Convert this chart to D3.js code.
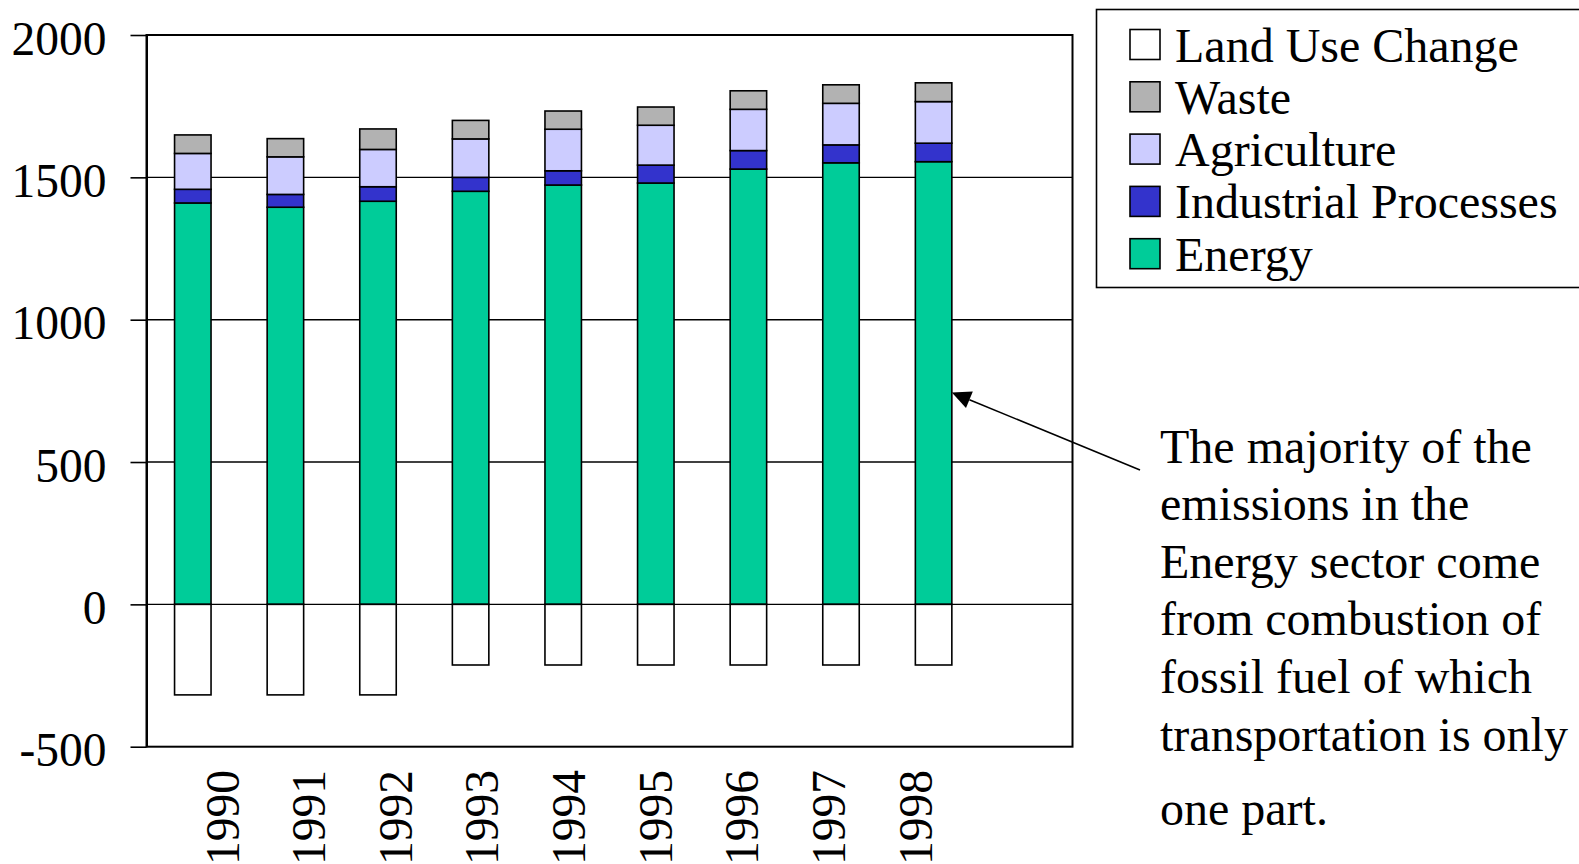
<!DOCTYPE html>
<html>
<head>
<meta charset="utf-8">
<script src="https://cdn.jsdelivr.net/npm/d3@7"></script>
<style>
  html, body { margin: 0; padding: 0; background: #fff; }
  svg { display: block; }
  text { font-family: "Liberation Serif", "Times New Roman", serif; fill: #000; }
</style>
</head>
<body>
<svg id="chart" width="1579" height="864"></svg>
<script>
// Greenhouse gas emissions by sector, 1990-1998
const years = ["1990", "1991", "1992", "1993", "1994", "1995", "1996", "1997", "1998"];
const energy      = [1410, 1395, 1416, 1451, 1473, 1480, 1529, 1551, 1555];
const industrial  = [48, 45, 51, 49, 50, 63, 65, 63, 65];
const agriculture = [126, 132, 131, 135, 146, 140, 145, 146, 146];
const waste       = [65, 64, 72, 65, 64, 64, 65, 65, 66];
const landUse     = [-318, -318, -318, -213, -213, -213, -213, -213, -213];

const yTicks = [-500, 0, 500, 1000, 1500, 2000];

const seriesKeys   = ["energy", "industrial", "agriculture", "waste", "landUse"];
const seriesNames  = { landUse: "Land Use Change", waste: "Waste", agriculture: "Agriculture",
                       industrial: "Industrial Processes", energy: "Energy" };
const seriesColors = { landUse: "#ffffff", waste: "#b2b2b2", agriculture: "#ccccff",
                       industrial: "#3333cc", energy: "#00cc99" };
const legendOrder  = ["landUse", "waste", "agriculture", "industrial", "energy"];

const noteLines = [
  "The majority of the",
  "emissions in the",
  "Energy sector come",
  "from combustion of",
  "fossil fuel of which",
  "transportation is only"
];
const noteLast = "one part.";

const table = years.map((yr, i) => ({
  year: yr,
  energy: energy[i],
  industrial: industrial[i],
  agriculture: agriculture[i],
  waste: waste[i],
  landUse: landUse[i]
}));

const svg = d3.select("#chart");
const plot = { left: 146.5, right: 1072.5, top: 35, bottom: 746.7 };
const serif = "Liberation Serif, Times New Roman, serif";

// nine bars take the first nine of ten equal slots across the plot
const slot = (plot.right - plot.left) / 10;
const x = d3.scaleBand()
  .domain(years)
  .range([plot.left, plot.left + slot * 9])
  .paddingInner(0.606)
  .paddingOuter(0.303);

const y = d3.scaleLinear().domain([-500, 2000]).range([plot.bottom, plot.top]);

// gridlines
svg.append("g")
  .selectAll("line")
  .data(yTicks.filter(v => v > -500 && v < 2000))
  .join("line")
  .attr("x1", plot.left).attr("x2", plot.right)
  .attr("y1", d => y(d)).attr("y2", d => y(d))
  .attr("stroke", "#000").attr("stroke-width", 1.4);

// stacked bars
const stacked = d3.stack().keys(seriesKeys).offset(d3.stackOffsetDiverging)(table);

svg.append("g")
  .selectAll("g")
  .data(stacked)
  .join("g")
  .attr("fill", d => seriesColors[d.key])
  .selectAll("rect")
  .data(d => d)
  .join("rect")
  .attr("x", d => x(d.data.year))
  .attr("width", x.bandwidth())
  .attr("y", d => y(Math.max(d[0], d[1])))
  .attr("height", d => Math.abs(y(d[0]) - y(d[1])))
  .attr("stroke", "#000")
  .attr("stroke-width", 1.6);

// plot frame
svg.append("rect")
  .attr("x", plot.left).attr("y", plot.top)
  .attr("width", plot.right - plot.left)
  .attr("height", plot.bottom - plot.top)
  .attr("fill", "none")
  .attr("stroke", "#000")
  .attr("stroke-width", 2);

// y axis (plain hyphen for negative values)
const yAxis = svg.append("g")
  .attr("transform", `translate(${plot.left},0)`)
  .call(d3.axisLeft(y).tickValues(yTicks).tickSize(16).tickSizeOuter(0).tickPadding(24)
    .tickFormat(d => String(d)));
yAxis.select(".domain").attr("stroke", "#000").attr("stroke-width", 2);
yAxis.selectAll(".tick line").attr("stroke", "#000").attr("stroke-width", 1.6);
yAxis.selectAll(".tick text")
  .attr("font-family", serif)
  .attr("font-size", 47.5)
  .attr("fill", "#000")
  .attr("dy", 19);

// x axis labels, rotated
const xLab = d3.scalePoint().domain(years).range([222, 915]);
const xAxis = svg.append("g")
  .attr("transform", "translate(0,770)")
  .call(d3.axisBottom(xLab).tickSize(0).tickPadding(0));
xAxis.select(".domain").remove();
xAxis.selectAll(".tick text")
  .attr("font-family", serif)
  .attr("font-size", 47.5)
  .attr("fill", "#000")
  .attr("text-anchor", "end")
  .attr("dy", null)
  .attr("y", 0)
  .attr("transform", "translate(16,0) rotate(-90)");

// legend
const legend = svg.append("g");
legend.append("rect")
  .attr("x", 1096.5).attr("y", 9.5)
  .attr("width", 520).attr("height", 278)
  .attr("fill", "#fff")
  .attr("stroke", "#000")
  .attr("stroke-width", 1.6);

const rows = legend.selectAll("g.row")
  .data(legendOrder)
  .join("g")
  .attr("class", "row")
  .attr("transform", (d, i) => `translate(1130,${29.5 + i * 52.3})`);
rows.append("rect")
  .attr("width", 30).attr("height", 30)
  .attr("fill", d => seriesColors[d])
  .attr("stroke", "#000")
  .attr("stroke-width", 1.6);
rows.append("text")
  .attr("x", 45).attr("y", 32)
  .attr("font-size", 48)
  .text(d => seriesNames[d]);

// annotation
const note = svg.append("g");
note.selectAll("text.line")
  .data(noteLines)
  .join("text")
  .attr("class", "line")
  .attr("x", 1160)
  .attr("y", (d, i) => 462.5 + i * 57.6)
  .attr("font-size", 48)
  .text(d => d);
note.append("text")
  .attr("x", 1160).attr("y", 825)
  .attr("font-size", 48)
  .text(noteLast);

// arrow pointing at the 1998 energy bar
const tip = [x("1998") + x.bandwidth(), 392.5];
const tail = [1140, 470];
const ang = Math.atan2(tail[1] - tip[1], tail[0] - tip[0]);
const headLen = 19, headHalf = 9;
const bx = tip[0] + headLen * Math.cos(ang), by = tip[1] + headLen * Math.sin(ang);
note.append("line")
  .attr("x1", tail[0]).attr("y1", tail[1])
  .attr("x2", bx).attr("y2", by)
  .attr("stroke", "#000").attr("stroke-width", 1.6);
note.append("path")
  .attr("d", d3.line()([
    tip,
    [bx - headHalf * Math.sin(ang), by + headHalf * Math.cos(ang)],
    [bx + headHalf * Math.sin(ang), by - headHalf * Math.cos(ang)]
  ]) + "Z")
  .attr("fill", "#000");
</script>
</body>
</html>
